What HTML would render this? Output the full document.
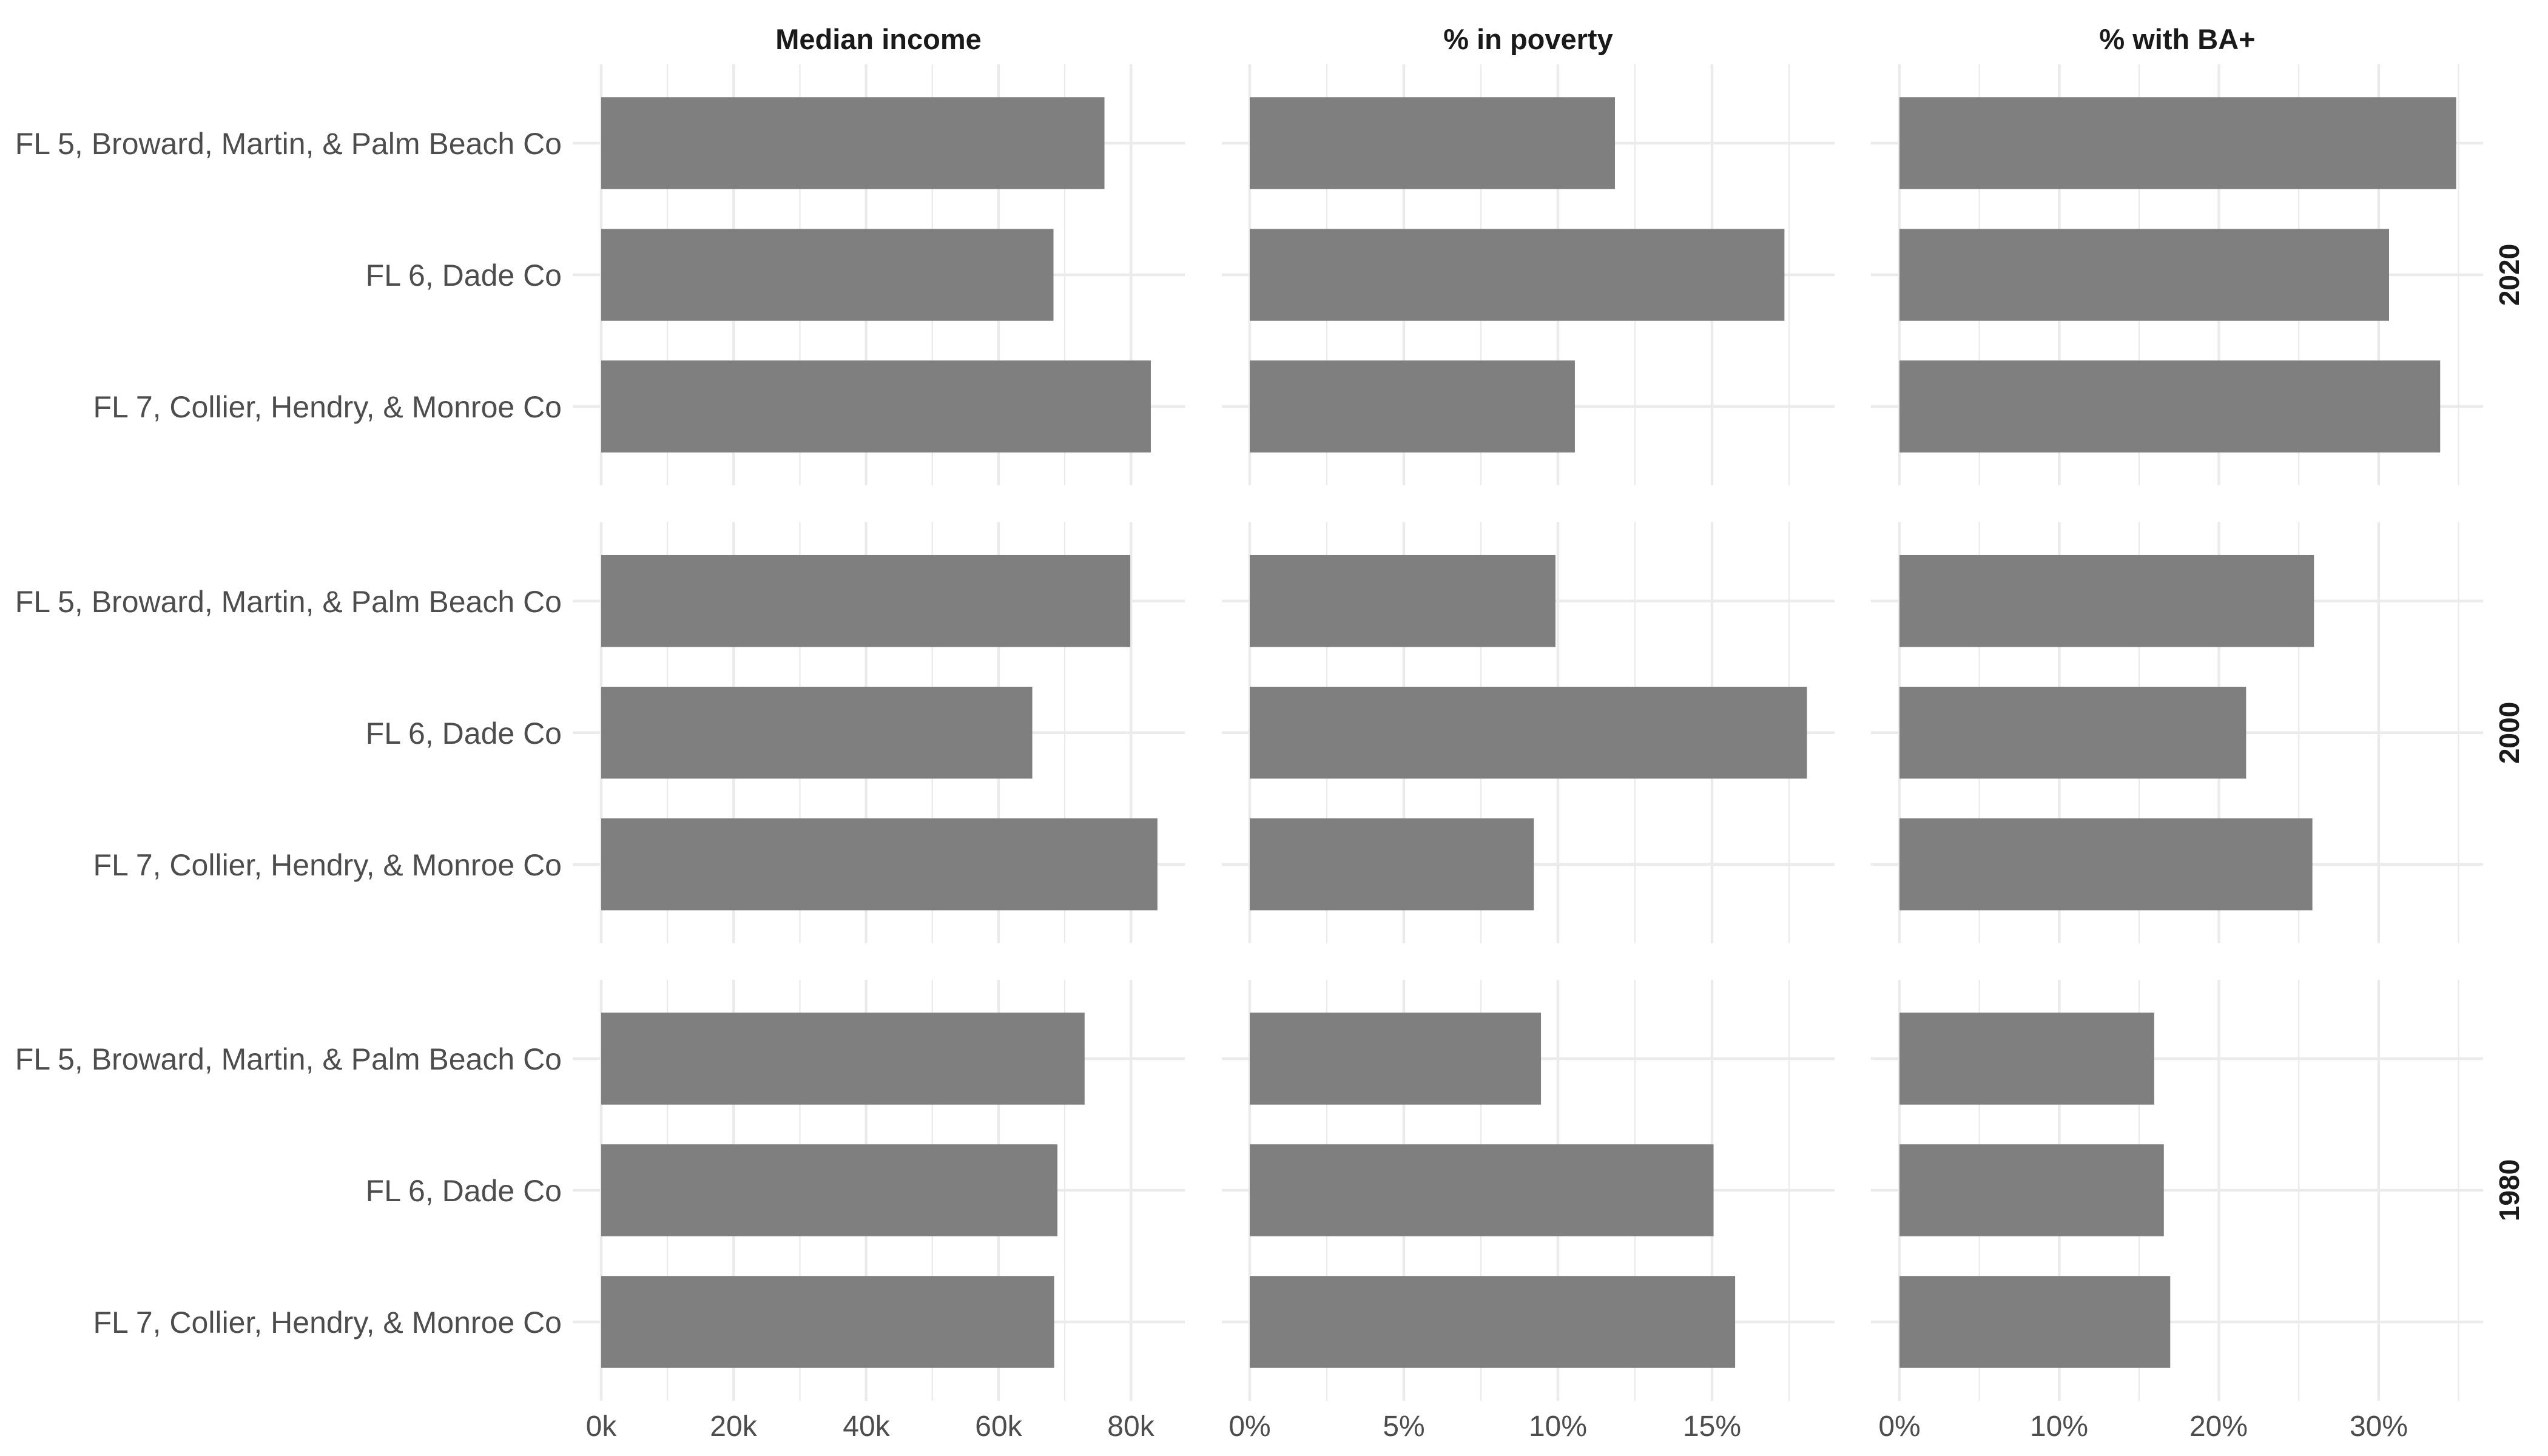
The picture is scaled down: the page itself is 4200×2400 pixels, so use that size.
<!DOCTYPE html>
<html><head><meta charset="utf-8"><style>
html,body{margin:0;padding:0;background:#fff;}
svg{display:block;}
text{font-family:"Liberation Sans",Arial,sans-serif;}
</style></head><body>
<svg id="s" width="4200" height="2400" viewBox="0 0 4200 2400" xmlns="http://www.w3.org/2000/svg">
<rect width="4200" height="2400" fill="#fff"/>
<g id="grid"></g>
<g id="bars" fill="#7f7f7f"></g>
<g font-size="47" font-weight="bold" fill="#1a1a1a" text-anchor="middle">
<text x="1448" y="81">Median income</text>
<text x="2519" y="81">% in poverty</text>
<text x="3589" y="81">% with BA+</text>
</g>
<g font-size="46" font-weight="bold" fill="#1a1a1a" text-anchor="middle">
<text transform="translate(4152,453) rotate(-90)">2020</text>
<text transform="translate(4152,1208) rotate(-90)">2000</text>
<text transform="translate(4152,1962) rotate(-90)">1980</text>
</g>
<g font-size="50" fill="#4d4d4d" text-anchor="end">
<text x="926" y="254">FL 5, Broward, Martin, &amp; Palm Beach Co</text>
<text x="926" y="471">FL 6, Dade Co</text>
<text x="926" y="688">FL 7, Collier, Hendry, &amp; Monroe Co</text>
<text x="926" y="1009">FL 5, Broward, Martin, &amp; Palm Beach Co</text>
<text x="926" y="1226">FL 6, Dade Co</text>
<text x="926" y="1443">FL 7, Collier, Hendry, &amp; Monroe Co</text>
<text x="926" y="1763">FL 5, Broward, Martin, &amp; Palm Beach Co</text>
<text x="926" y="1980">FL 6, Dade Co</text>
<text x="926" y="2197">FL 7, Collier, Hendry, &amp; Monroe Co</text>
</g>
<g font-size="48" fill="#4d4d4d" text-anchor="middle">
<text x="991" y="2367">0k</text>
<text x="1209" y="2367">20k</text>
<text x="1428" y="2367">40k</text>
<text x="1646" y="2367">60k</text>
<text x="1864" y="2367">80k</text>
<text x="2060" y="2367">0%</text>
<text x="2314" y="2367">5%</text>
<text x="2568" y="2367">10%</text>
<text x="2822" y="2367">15%</text>
<text x="3131" y="2367">0%</text>
<text x="3394" y="2367">10%</text>
<text x="3657" y="2367">20%</text>
<text x="3921" y="2367">30%</text>
</g>
</svg>
<script>
(function(){
var NS="http://www.w3.org/2000/svg";
var grid=document.getElementById("grid"),bars=document.getElementById("bars");
function el(p,tag,a){var e=document.createElementNS(NS,tag);for(var k in a)e.setAttribute(k,a[k]);p.appendChild(e);}
var panels=[{x0:944,x1:1953,z:991,u:218.3/20,step:10,max:85},
{x0:2014,x1:3024,z:2060,u:50.8,step:2.5,max:18},
{x0:3084,x1:4093,z:3131,u:26.33,step:5,max:36}];
var rows=[{top:106,c:[236,453,670]},{top:860.5,c:[990.7,1207.7,1424.7]},{top:1615,c:[1745,1962,2179]}];
var vals=[[[76.0,68.3,83.0],[11.85,17.35,10.55],[34.85,30.65,33.85]],
[[79.9,65.1,84.0],[9.92,18.08,9.22],[25.95,21.7,25.85]],
[[73.0,68.9,68.4],[9.45,15.05,15.75],[15.95,16.55,16.95]]];
var H=694,bh=151.5;
rows.forEach(function(r,ri){
 panels.forEach(function(p,pi){
  for(var v=0,i=0;v<=p.max+0.001;v+=p.step,i++){
   var x=p.z+v*p.u; if(x>p.x1)break;
   el(grid,"line",{x1:x,x2:x,y1:r.top,y2:r.top+H,stroke:"#ebebeb","stroke-width":(i%2==0)?4.5:2.3});
  }
  r.c.forEach(function(c,ci){
   el(grid,"line",{x1:p.x0,x2:p.x1,y1:c,y2:c,stroke:"#ebebeb","stroke-width":4.5});
   el(bars,"rect",{x:p.z,y:c-bh/2,width:vals[ri][pi][ci]*p.u,height:bh});
  });
 });
});
})();
</script>
</body></html>
